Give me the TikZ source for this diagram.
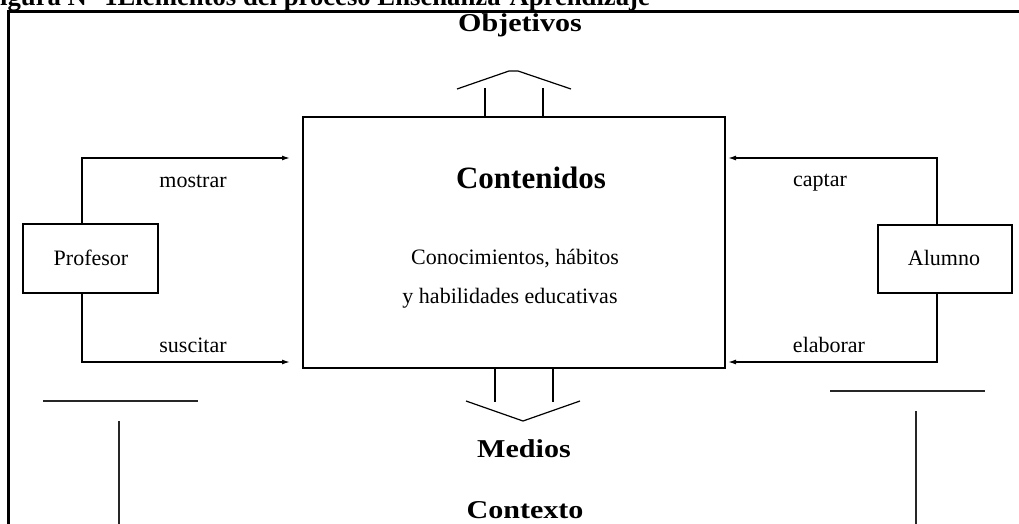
\documentclass[tikz,border=0pt]{standalone}
\usepackage{fontspec}
\usepackage{graphicx}
\setmainfont{Liberation Serif}
\usetikzlibrary{arrows.meta}
\newcommand{\widetxt}[1]{\scalebox{1.17}[1]{#1}}
\tikzset{
  boxnode/.style={draw, line width=1.4pt, inner sep=0pt},
  txt/.style={font=\fontsize{22}{26}\selectfont, inner sep=0pt, anchor=base},
  bigtxt/.style={font=\bfseries\fontsize{25.7}{30}\selectfont, inner sep=0pt, anchor=base},
  conn/.style={line width=1.4pt, -{Latex[length=8pt,width=5pt]}},
  plain/.style={line width=1.4pt},
  thin/.style={line width=1.2pt},
  tline/.style={line width=1.8pt, draw=black!85},
}
\begin{document}
\begin{tikzpicture}[x=1pt,y=-1pt]
\useasboundingbox (0,0) rectangle (1019,524);
\clip (0,0) rectangle (1019,524);
% title (cut off at the top)
\node[anchor=base west, inner sep=0pt, font=\bfseries\fontsize{26.7}{30}\selectfont] (title) at (0,6) {igura N° 1Elementos del proceso Enseñanza-Aprendizaje};
% frame
\draw[line width=3pt] (8.5,524) -- (8.5,11.5) -- (1019,11.5);
% boxes
\node[boxnode, minimum width=422pt, minimum height=251pt] (cont) at (514,242.5) {};
\node[boxnode, minimum width=135pt, minimum height=69pt] (prof) at (90.5,258.5) {};
\node[boxnode, minimum width=134pt, minimum height=68pt] (alum) at (945,259) {};
% texts
\node[bigtxt] (obj) at (520,32) {\widetxt{Objetivos}};
\node[bigtxt, font=\bfseries\fontsize{31}{34}\selectfont] (conttit) at (531,188) {Contenidos};
\node[txt] (c1) at (515,264) {Conocimientos, hábitos};
\node[txt] (c2) at (510,303) {y habilidades educativas};
\node[txt] (proft) at (91,265) {Profesor};
\node[txt] (alumt) at (944,265) {Alumno};
\node[txt] (mostrar) at (193,187) {mostrar};
\node[txt] (suscitar) at (193,352) {suscitar};
\node[txt] (captar) at (820,186) {captar};
\node[txt] (elaborar) at (829,352) {elaborar};
\node[bigtxt] (medios) at (524,457) {\widetxt{Medios}};
\node[bigtxt] (contexto) at (525,518) {\widetxt{Contexto}};
% connectors
\coordinate (pt) at (82,224);
\coordinate (pb) at (82,293);
\coordinate (at) at (937,225);
\coordinate (ab) at (937,293);
\coordinate (mt) at (290,158);
\coordinate (ms) at (290,362);
\coordinate (mc) at (728,158);
\coordinate (me) at (728,362);
\draw[conn] (pt) |- (mt);
\draw[conn] (pb) |- (ms);
\draw[conn] (at) |- (mc);
\draw[conn] (ab) |- (me);
% up arrow (Objetivos)
\coordinate (u1) at (485,117);
\coordinate (u2) at (543,117);
\draw[plain] (u1) -- (485,88);
\draw[plain] (u2) -- (543,88);
\draw[thin] (457,89) -- (509,71) -- (518,71) -- (571,89);
% down arrow (Medios)
\coordinate (d1) at (495,368);
\coordinate (d2) at (553,368);
\draw[plain] (d1) -- (495,402);
\draw[plain] (d2) -- (553,402);
\draw[thin] (466,401) -- (523,421) -- (580,401);
% T shapes
\draw[tline] (43,401) -- (198,401);
\draw[tline] (119,421) -- (119,524);
\draw[tline] (830,391) -- (985,391);
\draw[tline] (916,411) -- (916,524);
\end{tikzpicture}
\end{document}
